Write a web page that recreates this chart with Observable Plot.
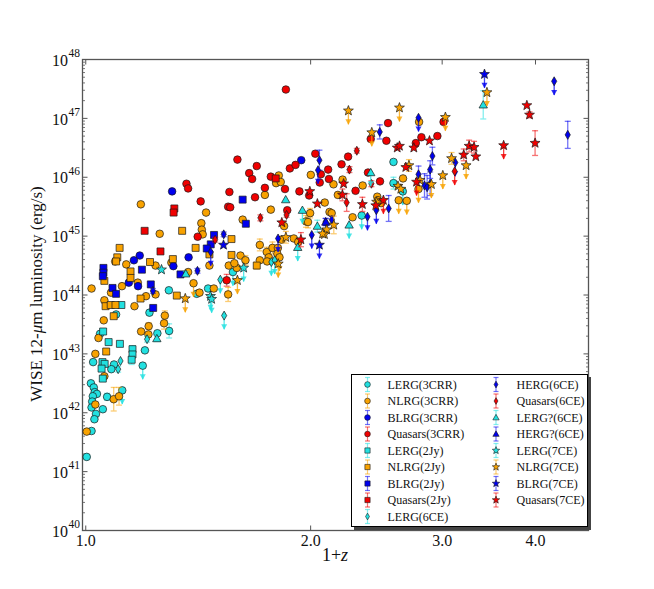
<!DOCTYPE html>
<html><head><meta charset="utf-8">
<script src="https://cdn.jsdelivr.net/npm/d3@7"></script>
<script src="https://cdn.jsdelivr.net/npm/@observablehq/plot@0.6"></script>
<style>
body{margin:0;background:#fff;}
#wrap{position:relative;width:654px;height:589px;font-family:"Liberation Serif","Times New Roman","DejaVu Serif",serif;color:#000;}
#wrap > svg{position:absolute;left:0;top:0;}
.ylab{position:absolute;left:37px;top:294px;transform:translate(-50%,-50%) rotate(-90deg);font-size:17px;white-space:nowrap;color:#111;}
.xlab{position:absolute;left:335px;top:555px;transform:translate(-50%,-50%);font-size:18px;white-space:nowrap;color:#111;}
#legend{position:absolute;left:351px;top:374px;width:235px;height:151px;border:1px solid #000;background:#fff;box-shadow:3px 3px 0 #444;}
#legend svg{position:absolute;left:0;top:0;}
</style></head><body><div id="wrap"></div>
<script>
// ---- data: [1+z, log10 L(erg/s), flag] ; flag: 0 none, "u" upper limit, number = error (dex)
const lerg3crr=[[1.292,44.08,0],[1.217,43.70,0],[1.098,43.67,0],[1.247,43.35,0],[1.293,43.39,0.12],[1.045,43.34,0],[1.200,43.06,0],[1.192,42.80,"u"],[1.023,42.86,0],[1.091,42.82,0],[1.082,42.74,0],[1.016,42.50,0],[1.025,42.43,0],[1.028,42.35,0],[1.035,42.32,0],[1.022,42.28,0],[1.020,42.19,0],[1.018,42.09,0],[1.032,41.98,0],[1.027,41.89,0],[1.054,42.06,0],[1.068,42.27,0.06],[1.119,42.38,"u"],[1.018,41.69,0],[1.003,41.25,0],[1.574,44.39,"u"],[1.458,44.11,0],[1.408,44.02,0],[2.582,46.26,0],[2.582,45.90,0.1],[2.657,45.76,"u"],[2.341,45.35,"u"]];
const nlrg3crr=[[1.185,45.54,0],[1.449,45.40,0],[1.428,45.22,0],[1.430,45.11,0],[1.434,45.03,0],[1.256,45.04,0],[1.095,44.57,0],[1.133,44.52,0],[1.302,44.55,0],[1.240,44.50,0],[1.371,44.39,0],[1.464,44.50,0],[1.018,44.11,0],[1.118,44.15,0],[1.174,44.21,0],[1.240,44.01,0],[1.081,44.04,0],[1.394,44.20,"u"],[1.420,44.04,0],[1.059,43.91,0],[1.162,43.81,0],[1.204,43.98,0],[1.276,43.65,0.08],[1.273,43.52,0.1],[1.057,43.57,0],[1.040,43.27,0],[1.214,43.47,0.06],[1.186,43.38,0],[1.213,43.33,0],[1.030,43.00,0],[1.059,42.62,0],[1.030,42.14,0],[1.090,42.23,0.2],[1.108,42.28,0.15],[1.003,41.68,0],[1.813,46.03,0],[1.798,45.90,0],[1.824,45.92,0],[2.001,46.04,0],[1.737,45.70,0],[2.089,45.57,0],[1.769,45.45,0],[1.843,45.17,0],[1.622,45.28,0],[1.593,44.46,0],[1.554,44.50,0],[1.581,44.54,0],[1.611,44.67,0],[1.636,44.59,0.08],[1.710,44.85,0.1],[1.710,44.59,0],[1.747,44.73,0.08],[1.758,44.64,0.1],[1.749,44.57,0],[1.778,44.80,0.1],[1.808,44.80,0],[1.828,44.94,0],[1.899,44.96,0],[1.925,44.90,0],[1.805,44.70,"u"],[1.817,44.64,"u"],[1.551,44.01,0.12],[1.484,44.11,0],[2.120,45.41,0],[2.794,46.94,0],[2.146,45.88,0],[2.207,45.96,0],[2.348,45.86,0],[2.175,45.70,0],[2.456,45.67,0],[2.461,45.61,0],[2.659,45.98,0],[2.624,45.61,"u"],[2.690,45.60,"u"],[2.789,45.80,"u"],[2.276,45.32,0],[2.134,45.39,0],[1.997,45.39,0.08],[1.972,45.25,0.1],[1.984,45.24,0.1],[2.485,45.56,0]];
const blrg3crr=[[1.305,45.76,0],[1.943,46.29,0],[1.181,44.67,0],[1.160,44.59,0],[1.373,44.64,0],[1.310,44.49,0],[1.142,44.21,0],[1.175,44.15,0]];
const q3crr=[[1.364,45.89,0],[1.371,45.81,0],[1.425,45.59,0],[1.412,44.99,0],[1.853,47.49,0],[1.596,46.30,0],[1.694,46.19,0],[1.655,46.07,0],[1.670,45.97,0],[1.769,46.01,0],[1.876,46.15,0],[1.909,46.21,0],[2.029,46.40,0],[2.064,46.05,0],[2.057,45.91,0],[2.111,46.13,0],[2.116,45.97,0],[1.737,45.82,0],[1.848,45.80,0],[1.932,45.76,0],[1.991,45.69,0],[1.557,45.75,0],[1.685,45.66,0],[1.551,45.50,0],[1.561,45.49,0],[1.861,45.44,0],[1.544,44.25,0.1],[3.013,46.94,0],[2.539,46.92,0],[2.407,46.65,0],[2.526,46.62,0],[2.766,46.58,0],[2.814,46.68,0],[2.956,46.70,0],[2.245,46.35,0],[2.200,46.22,0],[2.387,46.08,0],[2.477,45.93,0],[2.297,45.77,0]];
const lerg2jy=[[1.116,43.83,0],[1.055,43.38,0],[1.073,43.20,0],[1.111,43.17,0],[1.155,43.08,0.06],[1.155,42.99,0],[1.152,42.90,0.08],[1.053,42.86,0],[1.060,42.83,0],[1.050,42.75,0],[1.054,42.58,0]];
const nlrg2jy=[[1.346,45.09,0],[1.110,44.80,0],[1.403,44.80,0],[1.102,44.64,0],[1.098,44.57,0],[1.308,44.61,0],[1.219,44.56,0],[1.148,44.40,0],[1.148,44.29,0],[1.059,44.24,0],[1.324,43.99,0],[1.063,43.81,0],[1.080,43.83,0],[1.096,43.83,0],[1.184,43.94,0],[1.090,43.64,0],[1.065,43.04,0],[1.567,44.95,0],[1.464,44.69,0],[1.567,44.68,0],[1.694,44.50,0.06]];
const blrg2jy=[[1.485,45.02,0],[1.622,45.62,0],[1.638,45.21,0],[1.470,44.86,0],[1.452,44.79,0],[1.056,44.46,0],[1.056,44.38,0],[1.054,44.32,0],[1.189,44.43,0],[1.339,44.35,0],[1.222,44.18,0],[1.086,44.12,0],[1.098,44.02,0],[1.231,43.78,0]];
const q2jy=[[1.314,45.47,0],[1.311,45.40,0],[1.199,45.09,0],[1.259,44.74,0],[1.796,45.98,0]];
const lerg6ce=[[1.208,43.25,0.05],[1.113,42.88,0],[1.105,42.74,0.05],[1.532,43.65,"u"],[1.514,44.26,"u"],[1.772,44.56,"u"],[1.790,44.59,"u"]];
const herg6ce=[[1.411,44.41,0.04],[1.230,44.07,0.04],[1.530,45.03,0.04],[1.470,44.73,"u"],[2.055,46.29,0.17],[2.046,46.12,"u"],[1.809,44.96,"u"],[2.007,45.02,"u"],[2.789,47.01,"u"],[2.475,46.77,0.12],[2.449,45.44,"u"],[2.544,45.47,0.22],[2.383,45.33,"u"],[2.789,46.05,0.14],[2.841,45.86,0.2],[2.864,45.83,0.2],[2.891,45.89,0.2],[2.891,46.13,0.15],[2.911,46.36,0.15],[3.124,46.25,"u"],[4.237,47.63,"u"],[4.418,46.72,0.23],[2.094,45.24,0.06],[2.135,45.28,0.06]];
const q6ce=[[1.857,45.36,0.04],[1.713,45.31,0.05],[1.490,44.94,0.04],[2.306,46.45,0.04],[2.254,46.13,0.05],[2.412,45.89,0.05],[2.235,45.57,0.15],[3.118,46.10,"u"]];
const lergq6ce=[[1.361,44.36,0.04],[1.245,43.26,0.05],[1.852,45.62,0],[1.950,45.44,"u"],[1.922,44.81,"u"],[2.042,45.17,0.1],[2.407,46.08,"u"],[2.252,45.19,"u"],[3.405,47.23,0.24]];
const hergq6ce=[[2.096,45.24,0.06]];
const lerg7ce=[[1.263,44.43,0],[1.627,44.46,"u"],[1.469,43.98,"u"],[1.474,43.93,"u"]];
const nlrg7ce=[[1.359,43.94,"u"],[1.596,44.25,"u"],[1.810,44.53,"u"],[1.853,44.98,0.1],[2.087,45.03,0],[2.102,45.11,0],[2.075,45.04,0],[2.148,45.19,0.15],[2.247,47.13,"u"],[2.630,47.18,"u"],[2.415,46.76,"u"],[2.708,46.20,0.1],[2.618,45.85,0],[2.641,45.80,0],[2.802,45.95,0],[2.902,45.88,"u"],[3.006,46.03,"u"],[3.088,46.32,0.1],[3.230,46.20,"u"],[3.030,47.02,"u"],[3.444,47.44,"u"],[2.451,45.58,0]];
const blrg7ce=[[1.529,44.85,0],[2.055,44.85,"u"],[3.418,47.75,"u"]];
const q7ce=[[1.830,45.23,0],[1.941,44.94,0.12],[1.995,45.76,0],[2.042,45.55,0],[2.214,45.89,0],[2.206,45.70,0.1],[2.346,45.54,0.12],[2.503,45.61,"u"],[2.445,45.52,0],[2.682,46.17,0],[2.772,45.92,"u"],[2.749,46.50,0],[2.612,46.50,0],[2.630,46.53,0],[2.885,46.62,0],[3.206,46.38,0.1],[3.260,46.53,0.1],[3.310,46.51,0.1],[3.328,46.35,0],[3.626,46.54,"u"],[3.995,46.58,0.21],[3.895,47.22,0],[3.927,47.06,0.05]];

const labels=["LERG(3CRR)","NLRG(3CRR)","BLRG(3CRR)","Quasars(3CRR)","LERG(2Jy)","NLRG(2Jy)","BLRG(2Jy)","Quasars(2Jy)","LERG(6CE)","HERG(6CE)","Quasars(6CE)","LERG?(6CE)","HERG?(6CE)","LERG(7CE)","NLRG(7CE)","BLRG(7CE)","Quasars(7CE)"];
const datasets=[lerg3crr,nlrg3crr,blrg3crr,q3crr,lerg2jy,nlrg2jy,blrg2jy,q2jy,lerg6ce,herg6ce,q6ce,lergq6ce,hergq6ce,lerg7ce,nlrg7ce,blrg7ce,q7ce];
const CY="#22e0e0",OR="#f8a200",BL="#0000ee",RD="#f00000";
const colors=[CY,OR,BL,RD,CY,OR,BL,RD,CY,BL,RD,CY,BL,CY,OR,BL,RD];
const shapesOf=["circle","circle","circle","circle","square","square","square","square","thin","thin","thin","tri","tri","star","star","star","star"];
const xDomain=[0.99,4.71], yDomain=[1e40,1e48];
const xTicks=[1,2,3,4];
const yMajor=[1e40,1e41,1e42,1e43,1e44,1e45,1e46,1e47,1e48];
const minorMult=[2,3,4,5,6,7,8,9];
const ulDex=0.24;
const FONT="'Liberation Serif','Times New Roman','DejaVu Serif',serif";

// ---- symbols
function makeShapes(s){return {
  circle:{draw(c){const r=3.8*s;c.moveTo(r,0);c.arc(0,0,r,0,2*Math.PI);c.closePath();}},
  square:{draw(c){const h=3.5*s;c.rect(-h,-h,2*h,2*h);}},
  thin:{draw(c){const w=2.6*s,h=4.5*s;c.moveTo(0,-h);c.lineTo(w,0);c.lineTo(0,h);c.lineTo(-w,0);c.closePath();}},
  tri:{draw(c){const w=4.2*s;c.moveTo(0,-w);c.lineTo(w,w*0.75);c.lineTo(-w,w*0.75);c.closePath();}},
  star:{draw(c){const R=5.2*s,r=2.2*s;for(let k=0;k<10;k++){const a=-Math.PI/2+k*Math.PI/5,q=k%2?r:R;const px=q*Math.cos(a),py=q*Math.sin(a);k?c.lineTo(px,py):c.moveTo(px,py);}c.closePath();}}
};}
const SH=makeShapes(1), SHL=makeShapes(0.75);
const cap={draw(c){c.moveTo(-3,0);c.lineTo(3,0);}};
const head={draw(c){c.moveTo(-3,-5.5);c.lineTo(3,-5.5);c.lineTo(0,0);c.closePath();}};
const tk=(dx,dy)=>({draw(c){c.moveTo(0,0);c.lineTo(dx,dy);}});

const yMinor=yMajor.slice(0,-1).flatMap(d=>minorMult.map(m=>m*d));

const marks=[
  Plot.frame({stroke:"#555",strokeWidth:1.3}),
  Plot.dot(yMajor,{x:()=>xDomain[0],y:d=>d,symbol:tk(5,0),fill:"none",stroke:"#555",strokeWidth:1}),
  Plot.dot(yMajor,{x:()=>xDomain[1],y:d=>d,symbol:tk(-5,0),fill:"none",stroke:"#555",strokeWidth:1}),
  Plot.dot(yMinor,{x:()=>xDomain[0],y:d=>d,symbol:tk(2.5,0),fill:"none",stroke:"#555",strokeWidth:0.8}),
  Plot.dot(yMinor,{x:()=>xDomain[1],y:d=>d,symbol:tk(-2.5,0),fill:"none",stroke:"#555",strokeWidth:0.8}),
  Plot.dot(xTicks,{x:d=>d,y:()=>yDomain[0],symbol:tk(0,-5),fill:"none",stroke:"#555",strokeWidth:1}),
  Plot.dot(xTicks,{x:d=>d,y:()=>yDomain[1],symbol:tk(0,5),fill:"none",stroke:"#555",strokeWidth:1}),
  Plot.text(yMajor,{y:d=>d,frameAnchor:"left",text:()=>"10",textAnchor:"end",dx:-14.5,dy:1,fontSize:16,fill:"#111",fontFamily:FONT}),
  Plot.text(yMajor,{y:d=>d,frameAnchor:"left",text:d=>String(Math.round(Math.log10(d))),textAnchor:"start",dx:-14,dy:-6,fontSize:11.5,fill:"#111",fontFamily:FONT}),
  Plot.text(xTicks,{x:d=>d,frameAnchor:"bottom",text:d=>d.toFixed(1),lineAnchor:"top",dy:4,fontSize:16,fill:"#111",fontFamily:FONT})
];

datasets.forEach((ds,i)=>{
  const col=colors[i];
  const rows=ds.map(([x,l,f])=>({x,y:10**l,f}));
  const err=rows.filter(d=>typeof d.f==="number"&&d.f>0);
  const ul=rows.filter(d=>d.f==="u");
  marks.push(
    Plot.ruleX(err,{x:"x",y1:d=>d.y/10**d.f,y2:d=>d.y*10**d.f,stroke:col,strokeOpacity:0.55,strokeWidth:1.3}),
    Plot.dot(err,{x:"x",y:d=>d.y/10**d.f,symbol:cap,fill:"none",stroke:col,strokeOpacity:0.55,strokeWidth:1.3}),
    Plot.dot(err,{x:"x",y:d=>d.y*10**d.f,symbol:cap,fill:"none",stroke:col,strokeOpacity:0.55,strokeWidth:1.3}),
    Plot.ruleX(ul,{x:"x",y1:"y",y2:d=>d.y/10**ulDex,stroke:col,strokeOpacity:0.75,strokeWidth:1.3}),
    Plot.dot(ul,{x:"x",y:d=>d.y/10**ulDex,symbol:head,fill:col,fillOpacity:0.8,stroke:"none"}),
    Plot.dot(rows,{x:"x",y:"y",symbol:SH[shapesOf[i]],fill:col,stroke:"#1a1a1a",strokeWidth:0.7})
  );
});

const chart=Plot.plot({
  width:654,height:589,marginLeft:82,marginRight:66,marginTop:59,marginBottom:59,
  style:{fontFamily:FONT,background:"white",overflow:"visible"},
  x:{type:"log",domain:xDomain,axis:null},
  y:{type:"log",domain:yDomain,axis:null},
  marks
});
const wrap=document.getElementById("wrap");
wrap.appendChild(chart);

const yl=document.createElement("div");yl.className="ylab";yl.innerHTML="WISE 12-<i>μ</i>m luminosity (erg/s)";wrap.appendChild(yl);
const xl=document.createElement("div");xl.className="xlab";xl.innerHTML="1+<i>z</i>";wrap.appendChild(xl);

// ---- legend
const lg=document.createElement("div");lg.id="legend";wrap.appendChild(lg);
const ls=d3.select(lg).append("svg").attr("width",235).attr("height",151);
labels.forEach((name,i)=>{
  const colI=i<9?0:1,row=i<9?i:i-9;
  const mx=colI?144:15.5, tx=colI?164.5:35.5, cy=9.5+16.5*row;
  const g=ls.append("g");
  const col=colors[i];
  g.append("line").attr("x1",mx).attr("x2",mx).attr("y1",cy-7).attr("y2",cy+7).attr("stroke",col).attr("stroke-opacity",0.55).attr("stroke-width",1.2);
  [cy-7,cy+7].forEach(yy=>g.append("line").attr("x1",mx-2.5).attr("x2",mx+2.5).attr("y1",yy).attr("y2",yy).attr("stroke",col).attr("stroke-opacity",0.55).attr("stroke-width",1.2));
  g.append("path").attr("d",d3.symbol(SHL[shapesOf[i]])()).attr("transform",`translate(${mx},${cy})`).attr("fill",col).attr("stroke","#1a1a1a").attr("stroke-width",0.6);
  g.append("text").attr("x",tx).attr("y",cy).attr("dy","0.35em").attr("font-size",12).attr("font-family",FONT).attr("fill","#111").text(name);
});
</script></body></html>
